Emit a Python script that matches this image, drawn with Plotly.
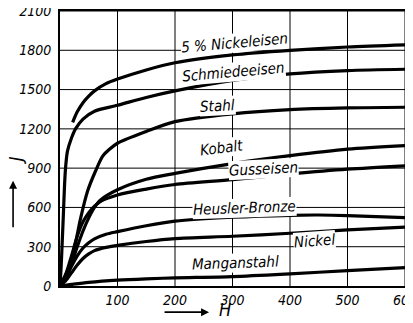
import plotly.graph_objects as go

# Magnetisierungskurven, J gegen H
h_nickeleisen = [22, 30, 40, 50, 60, 80, 100, 150, 200, 300, 400, 500, 600]
j_nickeleisen = [1250, 1330, 1400, 1450, 1490, 1545, 1580, 1650, 1705, 1765, 1800, 1825, 1842]

h_schmiede = [0, 2, 4, 6, 8, 10, 13, 20, 27, 40, 60, 100, 150, 200, 300, 400, 500, 600]
j_schmiede = [0, 150, 350, 560, 780, 920, 1030, 1130, 1200, 1275, 1335, 1380, 1440, 1490, 1570, 1620, 1645, 1655]

h_stahl = [0, 13, 25, 36, 48, 62, 74, 85, 100, 150, 200, 300, 400, 500, 600]
j_stahl = [0, 115, 290, 520, 725, 880, 990, 1040, 1090, 1180, 1255, 1315, 1347, 1360, 1365]

h_kobalt = [0, 10, 20, 30, 40, 50, 60, 70, 100, 150, 200, 300, 400, 500, 600]
j_kobalt = [0, 60, 170, 300, 420, 520, 600, 655, 735, 815, 860, 935, 995, 1045, 1072]

h_guss = [0, 10, 20, 30, 40, 50, 60, 70, 100, 150, 200, 300, 400, 500, 600]
j_guss = [0, 90, 230, 380, 490, 560, 610, 645, 695, 740, 775, 812, 855, 892, 918]

h_heusler = [0, 10, 20, 30, 40, 50, 60, 80, 100, 150, 200, 300, 400, 450, 500, 600]
j_heusler = [0, 60, 150, 230, 290, 330, 360, 395, 415, 460, 495, 525, 540, 542, 538, 522]

h_nickel = [0, 10, 20, 30, 40, 50, 60, 80, 100, 150, 200, 300, 400, 500, 600]
j_nickel = [0, 40, 100, 160, 210, 245, 270, 295, 310, 340, 362, 380, 403, 428, 450]

h_mangan = [0, 20, 50, 100, 150, 200, 300, 400, 500, 600]
j_mangan = [0, 12, 28, 45, 55, 62, 72, 93, 117, 140]

x_ticks = [100, 200, 300, 400, 500, 600]
y_ticks = [0, 300, 600, 900, 1200, 1500, 1800, 2100]

curves = [
    (h_nickeleisen, j_nickeleisen),
    (h_schmiede, j_schmiede),
    (h_stahl, j_stahl),
    (h_kobalt, j_kobalt),
    (h_guss, j_guss),
    (h_heusler, j_heusler),
    (h_nickel, j_nickel),
    (h_mangan, j_mangan),
]

FONT = "DejaVu Sans Condensed, DejaVu Sans, sans-serif"

fig = go.Figure()

# Gitternetz (inkl. Rahmen oben/rechts)
for v in x_ticks:
    fig.add_shape(type="line", xref="x", yref="paper", x0=v, x1=v, y0=0, y1=1,
                  line=dict(color="black", width=1), layer="below")
for v in y_ticks[1:]:
    fig.add_shape(type="line", xref="paper", yref="y", x0=0, x1=1, y0=v, y1=v,
                  line=dict(color="black", width=1), layer="below")

for h, j in curves:
    fig.add_trace(go.Scatter(x=h, y=j, mode="lines",
                             line=dict(color="black", width=3.2, shape="spline", smoothing=0.8),
                             hoverinfo="skip", showlegend=False))

# Beschriftungen der Kurven
labels = [
    ("5 % Nickeleisen", 303, 1858, -5),
    ("Schmiedeeisen", 301, 1637, -5),
    ("Stahl", 274, 1377, -3),
    ("Kobalt", 281, 1057, -7),
    ("Gusseisen", 354, 897, -3),
    ("Heusler-Bronze", 321, 593, -2),
    ("Nickel", 442, 340, -4),
    ("Manganstahl", 305, 179, -2),
]
for txt, x, y, ang in labels:
    fig.add_annotation(x=x, y=y, text=txt, showarrow=False, textangle=ang,
                       bgcolor="white", borderpad=0,
                       font=dict(family=FONT, size=15, color="black", style="italic"))

# Achsentitel mit Pfeilen
title_font = dict(family=FONT, size=18, color="black", style="italic")
fig.add_annotation(xref="paper", yref="paper", x=-0.13, y=0.458, text="J",
                   showarrow=False, textangle=-90, xanchor="center", yanchor="middle",
                   font=title_font)
fig.add_annotation(xref="paper", yref="paper", x=-0.136, y=0.383, text="",
                   showarrow=True, ax=0, ay=48, arrowhead=2, arrowsize=1,
                   arrowwidth=1.6, arrowcolor="black")
fig.add_annotation(xref="paper", yref="paper", x=0.478, y=-0.086, text="H",
                   showarrow=False, xanchor="center", yanchor="middle",
                   font=title_font)
fig.add_annotation(xref="paper", yref="paper", x=0.432, y=-0.095, text="",
                   showarrow=True, ax=-46, ay=0, arrowhead=2, arrowsize=1,
                   arrowwidth=1.6, arrowcolor="black")

axis_font = dict(family=FONT, size=14, color="black", style="italic")
fig.update_xaxes(range=[0, 600], tickvals=x_ticks, ticktext=[str(v) for v in x_ticks],
                 showgrid=False, ticklabeloverflow="allow", automargin=False,
                 showline=True, linecolor="black", linewidth=2, mirror=True,
                 ticks="", tickfont=axis_font, zeroline=False)
fig.update_yaxes(range=[0, 2100], tickvals=y_ticks, ticktext=[str(v) for v in y_ticks],
                 showgrid=False, ticklabeloverflow="allow", automargin=False,
                 showline=True, linecolor="black", linewidth=2, mirror=True,
                 ticks="", ticklabelstandoff=4, tickfont=axis_font,
                 zeroline=False)

# die Seite hat 8 px Rand, darum die Ränder verschoben
fig.update_layout(width=413, height=323, margin=dict(l=52, r=16, t=3, b=45),
                  plot_bgcolor="white", paper_bgcolor="white")

fig.write_html("out.html")
